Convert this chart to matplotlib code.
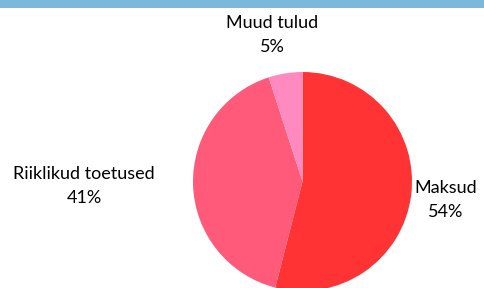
import matplotlib.pyplot as plt
from matplotlib.patches import Rectangle

# Data
labels = ['Maksud', 'Riiklikud toetused', 'Muud tulud']
shares = [54, 41, 5]
colors = ['#ff3333', '#ff5a7a', '#ff8ac0']

# Label placement (pixel coords, y from top)
label_pos = [(446, 200), (84, 186), (272, 35)]

W, H = 484, 288
fig = plt.figure(figsize=(W / 100, H / 100), dpi=100)
ax = fig.add_axes([0, 0, 1, 1])
ax.set_xlim(0, W)
ax.set_ylim(0, H)
ax.set_aspect('equal')
ax.axis('off')

# Pie
ax.pie(shares, colors=colors, startangle=90, counterclock=False,
       center=(302.5, H - 181.5), radius=109.5,
       wedgeprops=dict(linewidth=0))
ax.set_xlim(0, W)
ax.set_ylim(0, H)

# Labels
for name, val, (x, y) in zip(labels, shares, label_pos):
    ax.text(x, H - y, '{}\n{}%'.format(name, val), ha='center', va='center',
            fontsize=13, family='Lato', linespacing=1.6, color='#000000')

# Top blue bar
fig.patches.append(Rectangle((0, 1 - 8 / H), 1, 8 / H, transform=fig.transFigure,
                             facecolor='#7ab8de', edgecolor='none'))

fig.savefig('out.png', dpi=100, facecolor='white')
